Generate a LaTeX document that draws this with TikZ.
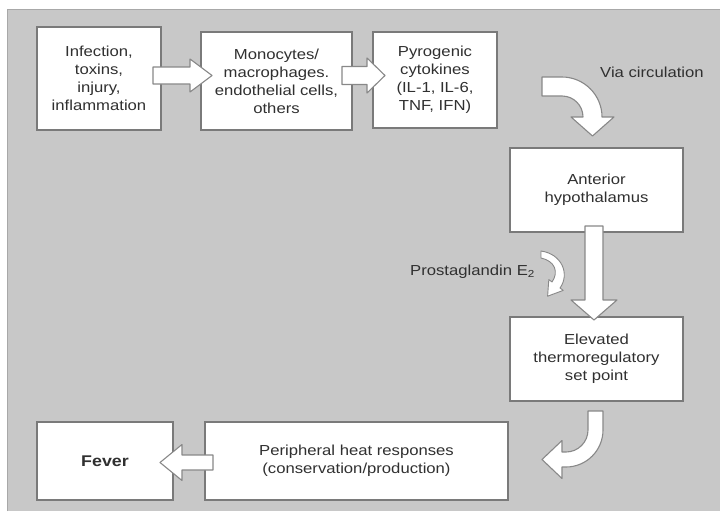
\documentclass[tikz,border=0pt]{standalone}
\usepackage{fontspec}
\setmainfont{Liberation Sans}[FakeStretch=1.15]
\definecolor{bg}{HTML}{C8C8C8}
\definecolor{bgedge}{HTML}{A8A8A8}
\definecolor{boxline}{HTML}{7A7A7A}
\definecolor{arrline}{HTML}{888888}
\definecolor{txt}{HTML}{303030}
\begin{document}
\begin{tikzpicture}[x=1pt,y=-1pt,
  box/.style={draw=boxline, fill=white, line width=1.2pt, align=center, inner sep=0pt,
    text=txt, font=\fontsize{14.5}{18}\selectfont},
  lbl/.style={text=txt, font=\fontsize{14.5}{18}\selectfont, inner sep=0pt},
  fat/.style={draw=arrline, fill=white, line width=1.1pt, line join=round}]
\useasboundingbox (0,0) rectangle (720,514);
\fill[white] (0,0) rectangle (720,514);
\fill[bg] (7,9) rectangle (720,511);
\draw[bgedge, line width=0.8pt] (7,511) -- (7,9) -- (720,9);

% boxes
\node[box, minimum width=124pt, minimum height=103pt] (n1) at (99,78.5) {Infection,\\toxins,\\injury,\\inflammation};
\node[box, minimum width=151pt, minimum height=98pt] (n2) at (276.5,81) {Monocytes/\\macrophages.\\endothelial cells,\\others};
\node[box, minimum width=124pt, minimum height=96pt] (n3) at (435,80) {Pyrogenic\\cytokines\\(IL-1, IL-6,\\TNF, IFN)};
\node[box, minimum width=173pt, minimum height=84pt] (n4) at (596.5,190) {Anterior\\hypothalamus};
\node[box, minimum width=173pt, minimum height=84pt] (n5) at (596.5,359) {Elevated\\thermoregulatory\\set point};
\node[box, minimum width=303pt, minimum height=78pt] (n6) at (356.5,461) {Peripheral heat responses\\(conservation/production)};
\node[box, minimum width=136pt, minimum height=78pt, font=\fontsize{15.5}{18}\bfseries] (n7) at (105,461) {Fever};

% labels
\node[lbl, anchor=west] (via) at (600,72) {Via circulation};
\node[lbl, anchor=west] (pge) at (410,272) {Prostaglandin E\textsubscript{2}};

% straight block arrows
\draw[fat] (153,67) -- (190,67) -- (190,59) -- (212,75.5) -- (190,92) -- (190,84) -- (153,84) -- cycle;
\draw[fat] (342,66.5) -- (367,66.5) -- (367,58) -- (385,75.5) -- (367,93) -- (367,84.5) -- (342,84.5) -- cycle;
\draw[fat] (585,226) -- (585,300) -- (571,300) -- (594,320) -- (617,300) -- (603,300) -- (603,226) -- cycle;
\draw[fat] (213,455) -- (182,455) -- (182,444.5) -- (160,462.5) -- (182,480.5) -- (182,470) -- (213,470) -- cycle;

% curved arrow: via circulation
\draw[fat] (542,77) -- (562,77) .. controls (584,77) and (602,95) .. (602,117)
  -- (614,117) -- (592.5,136) -- (571,117) -- (583,117)
  .. controls (583,105.4) and (573.6,96) .. (562,96) -- (542,96) -- cycle;

% curved arrow: set point -> peripheral responses
\draw[fat] (588,411) -- (603,411) -- (603,430) .. controls (603,450.4) and (586.4,467) .. (566,467)
  -- (562,467) -- (562,478.5) -- (542,459.5) -- (562,440.5) -- (562,452) -- (566,452)
  .. controls (578.1,452) and (588,442.1) .. (588,430) -- cycle;

% small curved arrow near prostaglandin
\draw[fat, line width=0.9pt] (541,251) .. controls (562,254) and (570,274) .. (560,288)
  -- (563.2,290.4) -- (547.6,296.2) -- (548.8,279.6) -- (552,282)
  .. controls (559,272) and (555,261) .. (541,258) -- cycle;
\end{tikzpicture}
\end{document}
